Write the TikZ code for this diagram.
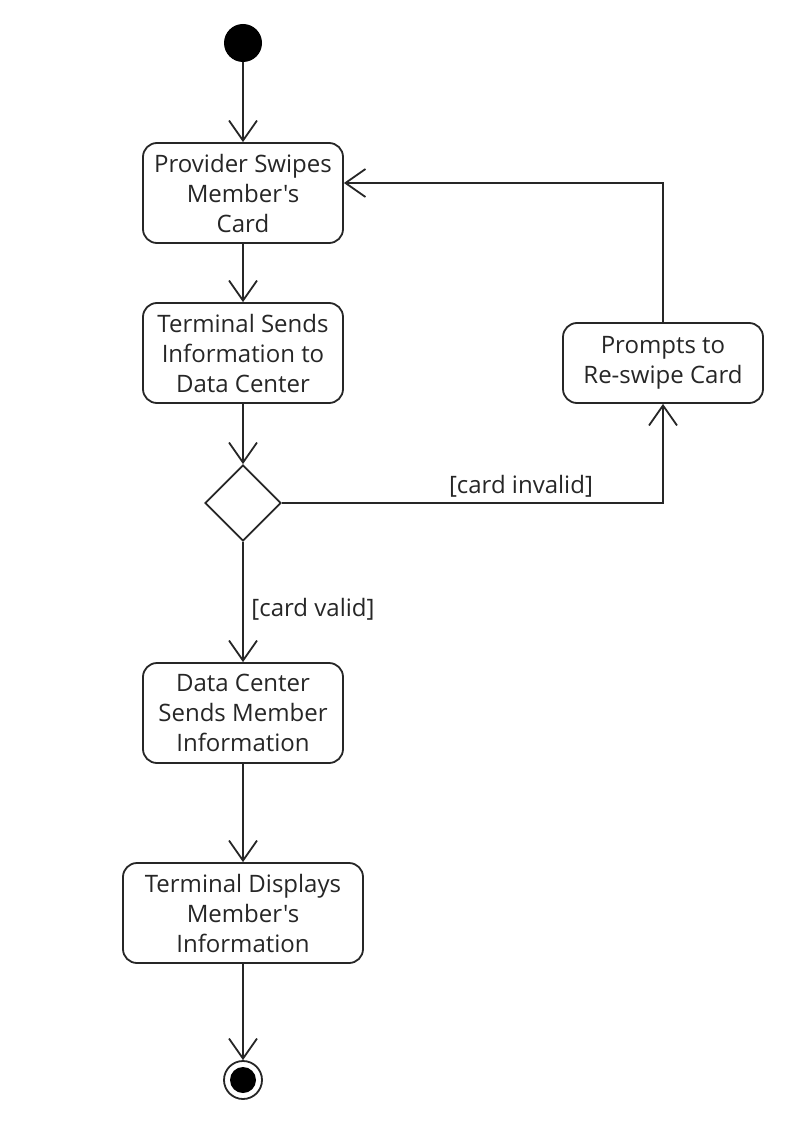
\documentclass[tikz,border=0pt]{standalone}
\usepackage{fontspec}
\setmainfont{Open Sans}[Ligatures=TeXOff]
\usetikzlibrary{arrows.meta,shapes.geometric}
\begin{document}
\begin{tikzpicture}[x=1pt,y=-1pt,
  every node/.style={font=\fontsize{24}{30}\selectfont, text=black!85},
  act/.style={draw=black!85, line width=1.8pt, rounded corners=14pt, minimum height=100pt, align=center, inner sep=0pt},
  flow/.style={draw=black!85, line width=1.8pt, -{Straight Barb[length=20pt,width=28pt,line width=1.8pt]}},
  lbl/.style={font=\fontsize{24}{30}\selectfont}]
\useasboundingbox (0,0) rectangle (788,1126);
\node[circle, fill=black, minimum size=38pt, inner sep=0pt] (start) at (243,43) {};
\node[act, minimum width=200pt] (swipe) at (243,193) {Provider Swipes\\Member's\\Card};
\node[act, minimum width=200pt] (send) at (243,353) {Terminal Sends\\Information to\\Data Center};
\node[diamond, draw=black!85, line width=1.8pt, minimum size=76pt, inner sep=0pt, aspect=1] (dec) at (243,503) {};
\node[act, minimum width=200pt, minimum height=80pt] (prompt) at (663,363) {Prompts to\\Re-swipe Card};
\node[act, minimum width=200pt] (dc) at (243,713) {Data Center\\Sends Member\\Information};
\node[act, minimum width=240pt] (disp) at (243,913) {Terminal Displays\\Member's\\Information};
\node[circle, draw=black!85, line width=1.8pt, minimum size=38pt, inner sep=0pt] (end) at (243,1080) {};
\node[circle, fill=black, minimum size=26pt, inner sep=0pt] (endin) at (243,1080) {};
\coordinate (c1) at (663,503);
\coordinate (c2) at (663,183);
\draw[flow] (start) -- (swipe);
\draw[flow] (swipe) -- (send);
\draw[flow] (send) -- (dec);
\draw[flow] (dec.east) -- (c1) -- (prompt.south);
\draw[flow] (prompt.north) -- (c2) -- (swipe.east |- c2);
\draw[flow] (dec) -- (dc);
\draw[flow] (dc) -- (disp);
\draw[flow] (disp) -- (end);
\node[lbl] (inv) at (521,486) {[card invalid]};
\node[lbl] (val) at (313,609) {[card valid]};
\end{tikzpicture}
\end{document}
